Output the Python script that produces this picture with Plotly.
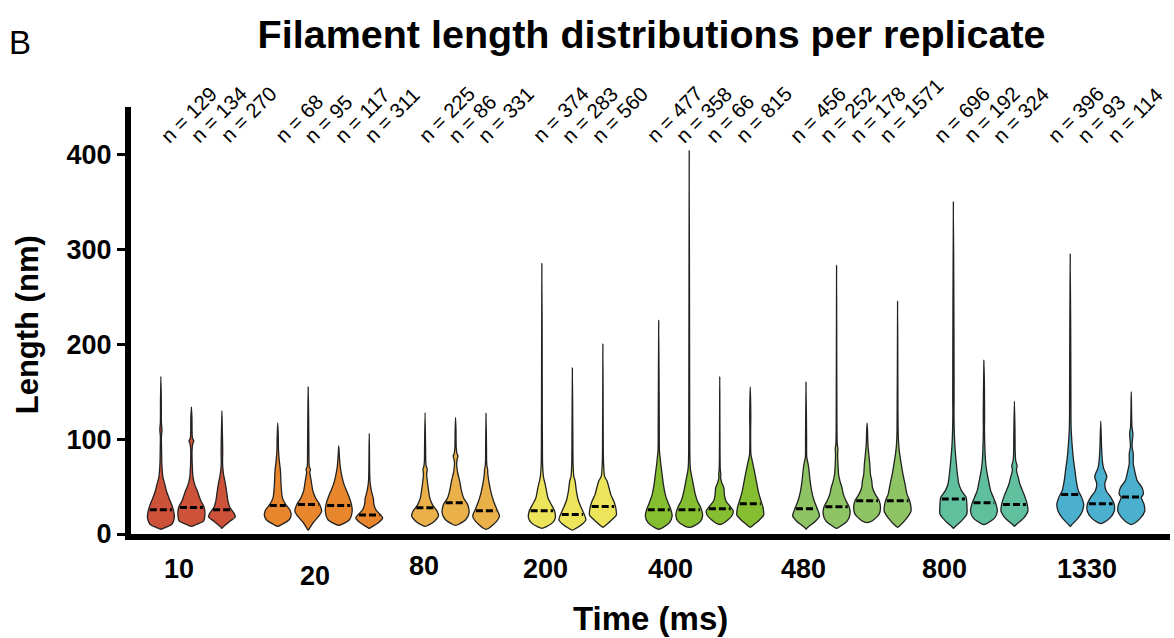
import numpy as np
import plotly.graph_objects as go

# ---------------- data ----------------
groups = ["10", "20", "80", "200", "400", "480", "800", "1330"]
group_colors = ["#cd523a", "#e8862e", "#eab04a", "#ece45a", "#86be32", "#8ec464", "#60c09e", "#4bb0cd"]

n_counts = [[129, 134, 270], [68, 95, 117, 311], [225, 86, 331], [374, 283, 560],
            [477, 358, 66, 815], [456, 252, 178, 1571], [696, 192, 324], [396, 93, 114]]

medians = [[25.5, 28, 25.5], [30, 31, 30, 20], [27.6, 33, 24.5], [24.5, 20.5, 29],
           [25.5, 25.5, 26.5, 32], [26.5, 28.7, 35, 35], [37, 33, 31], [41.5, 32, 39]]

# density profiles: (length levels in nm, relative half-width)
profile_levels = [
    [[5, 7, 10, 17, 24, 31, 38, 45, 52, 60, 74, 88, 103, 110, 117, 140, 166],
     [8, 10, 13.5, 19, 28, 35, 45, 52, 60, 74, 88, 95, 98, 101, 123, 134],
     [6, 7.5, 13.5, 18, 22, 28, 35, 45, 54, 63, 74, 88, 110, 130]],
    [[8, 10, 15, 20, 25.5, 31, 38, 52, 67, 77, 88, 103, 117],
     [4, 5, 11.6, 19, 24, 31, 38, 45, 56, 65, 68, 71, 74, 88, 123, 155],
     [9, 10.6, 15, 24, 31, 38, 45, 52, 60, 70, 81, 93],
     [6, 6.7, 12, 17, 20, 25.5, 31, 38, 43, 52, 60, 106]],
    [[8, 9, 13.5, 19, 24, 31, 38, 45, 52, 63, 68, 72, 77, 88, 128],
     [9, 10, 15, 22, 31, 38, 45, 56, 65, 74, 79, 82, 85, 91, 110, 123],
     [5, 6, 13.5, 19, 26, 35, 45, 56, 65, 68, 71, 77, 94, 127]],
    [[6, 7.5, 12, 17, 24, 31, 38, 45, 52, 60, 74, 88, 123, 200, 285],
     [4, 5, 10, 15, 20, 28, 35, 45, 56, 61, 74, 110, 175],
     [7, 8, 13.5, 20, 28, 35, 41, 49, 56, 61, 74, 88, 200]],
    [[5, 6.7, 12, 19, 26, 33, 41, 52, 63, 74, 81, 88, 110, 145, 225],
     [7, 8, 13.5, 20, 28, 35, 45, 56, 67, 74, 91, 150, 404],
     [10, 11.6, 19, 24.5, 29.5, 35, 41, 49, 54, 60, 63, 68, 166],
     [7, 8, 15, 20, 28, 35, 45, 56, 67, 77, 84, 110, 123, 155]],
    [[5, 6.7, 13.5, 19, 26, 35, 45, 56, 67, 74, 81, 99, 160],
     [6, 7.4, 13.8, 21, 28, 35, 42, 49, 56, 63, 74, 85, 90, 95, 110, 283],
     [12, 14, 21, 28, 35, 42, 49, 56, 63, 74, 85, 95, 106, 117],
     [7, 8, 17, 24, 35, 42, 53, 63, 74, 85, 95, 110, 245]],
    [[6, 7.4, 13.8, 21, 31.5, 38.6, 45.7, 53, 63, 74, 85, 95, 110, 127, 145, 350],
     [10, 11, 17, 24, 31.5, 38.6, 45.7, 56, 67, 77, 88, 110, 123, 183],
     [8, 9.5, 17, 24, 31.5, 38.6, 45.7, 53, 60, 67, 72, 77, 85, 110, 140]],
    [[8, 9.5, 17, 24, 31.5, 38.6, 45.7, 56, 67, 77, 92, 110, 127, 145, 295],
     [11, 12, 17, 24, 31.5, 38.6, 45.7, 53, 60, 63, 70, 77, 92, 119],
     [10, 11, 17, 24, 31.5, 38.6, 42, 49, 56, 67, 74, 85, 92, 106, 113, 150]],
]
profile_widths = [
    [[0, 0.35, 0.8, 1.0, 0.95, 0.8, 0.6, 0.42, 0.3, 0.15, 0.07, 0.05, 0.04, 0.08, 0.04, 0.03, 0],
     [0, 0.35, 0.9, 1.0, 0.95, 0.7, 0.45, 0.25, 0.12, 0.06, 0.05, 0.1, 0.18, 0.08, 0.04, 0],
     [0, 0.1, 0.6, 1.0, 0.9, 0.6, 0.45, 0.35, 0.25, 0.12, 0.05, 0.06, 0.03, 0]],
    [[0, 0.3, 0.85, 1.0, 0.9, 0.6, 0.35, 0.25, 0.2, 0.12, 0.06, 0.04, 0],
     [0, 0.05, 0.35, 0.8, 1.0, 0.85, 0.55, 0.35, 0.22, 0.12, 0.16, 0.08, 0.06, 0.05, 0.03, 0],
     [0, 0.3, 0.8, 1.0, 0.95, 0.8, 0.6, 0.4, 0.25, 0.12, 0.05, 0],
     [0, 0.1, 0.7, 1.0, 0.85, 0.5, 0.35, 0.3, 0.2, 0.08, 0.04, 0]],
    [[0, 0.2, 0.7, 1.0, 0.9, 0.55, 0.35, 0.27, 0.2, 0.12, 0.16, 0.08, 0.05, 0.04, 0],
     [0, 0.2, 0.75, 1.0, 0.9, 0.6, 0.45, 0.3, 0.15, 0.08, 0.12, 0.18, 0.1, 0.05, 0.03, 0],
     [0, 0.2, 0.8, 1.0, 0.8, 0.55, 0.35, 0.2, 0.12, 0.12, 0.07, 0.04, 0.03, 0]],
    [[0, 0.3, 0.8, 1.0, 0.95, 0.7, 0.45, 0.35, 0.25, 0.12, 0.05, 0.04, 0.03, 0.02, 0],
     [0, 0.15, 0.7, 1.0, 0.9, 0.65, 0.45, 0.3, 0.2, 0.1, 0.05, 0.03, 0],
     [0, 0.1, 0.55, 1.0, 0.95, 0.8, 0.6, 0.45, 0.3, 0.12, 0.05, 0.03, 0]],
    [[0, 0.3, 0.8, 1.0, 0.9, 0.7, 0.5, 0.35, 0.25, 0.15, 0.1, 0.05, 0.04, 0.03, 0],
     [0, 0.3, 0.85, 1.0, 0.85, 0.6, 0.4, 0.25, 0.1, 0.06, 0.04, 0.03, 0],
     [0, 0.3, 0.9, 1.0, 0.75, 0.45, 0.35, 0.3, 0.15, 0.06, 0.08, 0.04, 0],
     [0, 0.1, 0.7, 1.0, 0.95, 0.8, 0.6, 0.45, 0.3, 0.15, 0.05, 0.03, 0.04, 0]],
    [[0, 0.1, 0.7, 1.0, 0.85, 0.6, 0.42, 0.3, 0.22, 0.15, 0.05, 0.04, 0],
     [0, 0.2, 0.8, 1.0, 0.95, 0.7, 0.5, 0.4, 0.25, 0.15, 0.1, 0.08, 0.1, 0.05, 0.03, 0],
     [0, 0.4, 0.9, 1.0, 0.9, 0.6, 0.4, 0.35, 0.25, 0.2, 0.12, 0.06, 0.04, 0],
     [0, 0.1, 0.7, 1.0, 0.9, 0.7, 0.55, 0.4, 0.27, 0.15, 0.08, 0.04, 0]],
    [[0, 0.1, 0.6, 1.0, 1.0, 0.95, 0.6, 0.4, 0.3, 0.22, 0.15, 0.1, 0.06, 0.04, 0.05, 0],
     [0, 0.2, 0.8, 1.0, 0.9, 0.7, 0.5, 0.35, 0.2, 0.12, 0.08, 0.04, 0.05, 0],
     [0, 0.1, 0.7, 1.0, 0.95, 0.8, 0.6, 0.4, 0.28, 0.15, 0.2, 0.1, 0.06, 0.04, 0]],
    [[0, 0.1, 0.6, 0.9, 1.0, 0.85, 0.6, 0.45, 0.35, 0.25, 0.15, 0.07, 0.05, 0.05, 0],
     [0, 0.2, 0.7, 1.0, 1.0, 0.75, 0.4, 0.3, 0.45, 0.4, 0.2, 0.12, 0.06, 0],
     [0, 0.2, 0.7, 1.0, 0.95, 0.75, 0.9, 0.8, 0.45, 0.25, 0.15, 0.15, 0.06, 0.12, 0.05, 0]],
]

tick_labels = groups
tick_label_x = [0.59, 5.05, 8.62, 12.62, 16.72, 21.05, 25.70, 30.36]      # axis units
tick_label_y = [-0.082, -0.098, -0.075, -0.082, -0.082, -0.082, -0.082, -0.082]  # paper units

# ---------------- layout constants ----------------
GROUP_GAP = 0.83      # extra spacing between time groups
HALF_W = 0.44         # max half-width of a violin (axis units)
FONT = "Liberation Sans, Arial, sans-serif"

fig = go.Figure()
annotations = []

slot = 0
for gi, g in enumerate(groups):
    col = group_colors[gi]
    for ri, n in enumerate(n_counts[gi]):
        c = slot + GROUP_GAP * gi
        lv = np.array(profile_levels[gi][ri], dtype=float)
        wd = np.array(profile_widths[gi][ri], dtype=float) * HALF_W
        xs = np.concatenate([c + wd, (c - wd)[::-1][1:]])
        ys = np.concatenate([lv, lv[::-1][1:]])
        fig.add_trace(go.Scatter(
            x=xs, y=ys, mode="lines", fill="toself", fillcolor=col,
            line=dict(color="#222222", width=1.3, shape="spline", smoothing=0.7),
            hoverinfo="skip", showlegend=False))
        med = medians[gi][ri]
        wm = float(np.interp(med, lv, wd)) * 0.9
        fig.add_trace(go.Scatter(
            x=[c - wm, c + wm], y=[med, med], mode="lines",
            line=dict(color="black", width=3, dash="7px,3px"),
            hoverinfo="skip", showlegend=False))
        annotations.append(dict(
            x=c * 0.975 - 0.25, y=405, xref="x", yref="y", text=f"n = {n}",
            textangle=-45, showarrow=False, xanchor="left", yanchor="bottom",
            font=dict(size=20.5, color="black", family=FONT)))
        slot += 1

for lab, tx, ty in zip(tick_labels, tick_label_x, tick_label_y):
    annotations.append(dict(
        x=tx, y=ty, xref="x", yref="paper", text=f"<b>{lab}</b>", showarrow=False,
        xanchor="center", yanchor="middle",
        font=dict(size=27, color="black", family=FONT)))

annotations.append(dict(x=0.5, y=-0.197, xref="paper", yref="paper", text="<b>Time (ms)</b>",
                        showarrow=False, xanchor="center", yanchor="middle",
                        font=dict(size=33, color="black", family=FONT)))
annotations.append(dict(x=-0.1, y=0.489, xref="paper", yref="paper", text="<b>Length (nm)</b>",
                        textangle=-90, showarrow=False, xanchor="center", yanchor="middle",
                        font=dict(size=31, color="black", family=FONT)))
annotations.append(dict(x=-0.107, y=1.152, xref="paper", yref="paper", text="B",
                        showarrow=False, xanchor="center", yanchor="middle",
                        font=dict(size=33, color="black",
                                  family="Liberation Sans Narrow, Liberation Sans, Arial")))

fig.update_layout(
    width=1174, height=638,
    margin=dict(l=131, r=4, t=107, b=104),
    paper_bgcolor="white", plot_bgcolor="white",
    title=dict(text="<b>Filament length distributions per replicate</b>",
               x=0.555, xanchor="center", y=0.947, yanchor="middle",
               font=dict(size=39.5, color="black", family=FONT)),
    xaxis=dict(range=[-0.98, 33.08], showgrid=False, zeroline=False,
               showticklabels=False, ticks="", showline=True, linecolor="black",
               linewidth=6),
    yaxis=dict(range=[0, 450], showgrid=False, zeroline=False,
               tickvals=[0, 100, 200, 300, 400], ticks="outside", ticklen=8,
               tickwidth=3, tickcolor="black", showline=True, linecolor="black",
               linewidth=6,
               tickfont=dict(size=27, color="black", family=FONT, weight="bold")),
    annotations=annotations,
)

fig.write_html("out.html", config={"displayModeBar": False},
               post_script="document.body.style.margin='0';")
